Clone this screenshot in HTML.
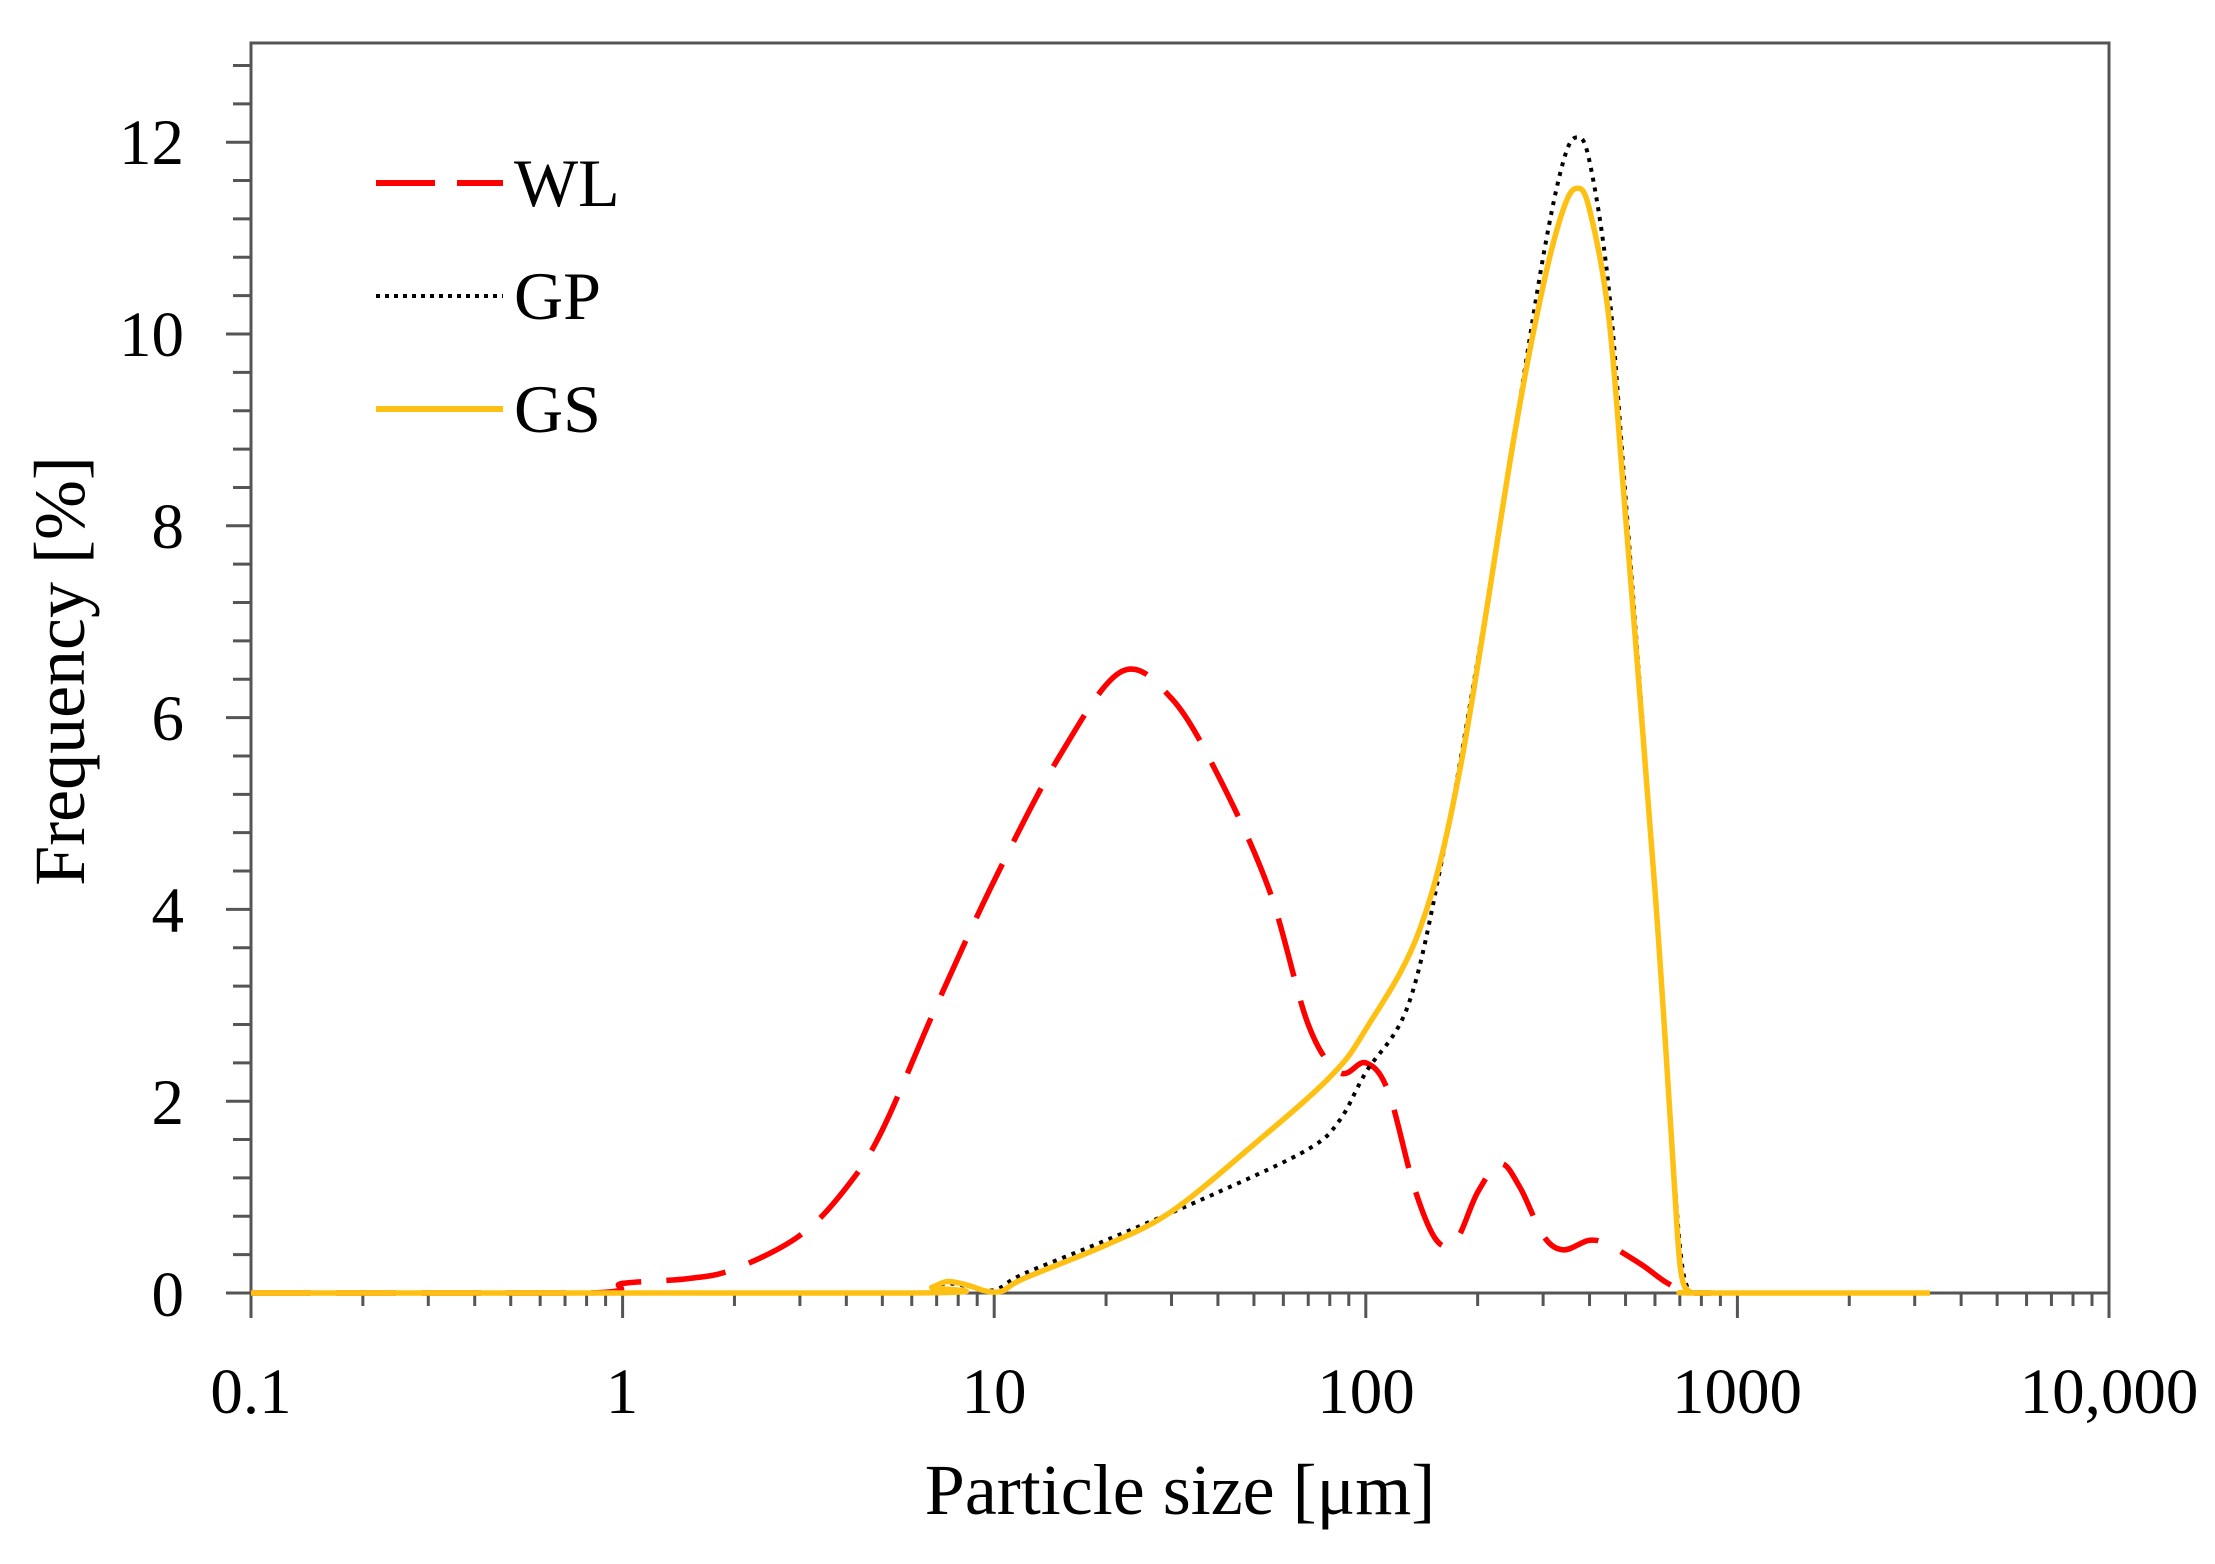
<!DOCTYPE html>
<html><head><meta charset="utf-8"><style>
html,body{margin:0;padding:0;background:#fff;}
svg{display:block;}
text{font-family:"Liberation Serif",serif;fill:#000;}
</style></head><body>
<svg id="s" width="2215" height="1564" viewBox="0 0 2215 1564" xmlns="http://www.w3.org/2000/svg">
<rect width="2215" height="1564" fill="#fff"/>
<g id="ticks" stroke="#555" stroke-width="3"></g>
<rect x="251" y="43" width="1858" height="1250" fill="none" stroke="#555" stroke-width="3"/>
<g id="curves" fill="none" stroke-linejoin="round"></g>
<g font-size="65">
<text x="184" y="164" text-anchor="end">12</text>
<text x="184" y="356" text-anchor="end">10</text>
<text x="184" y="548" text-anchor="end">8</text>
<text x="184" y="740" text-anchor="end">6</text>
<text x="184" y="932" text-anchor="end">4</text>
<text x="184" y="1124" text-anchor="end">2</text>
<text x="184" y="1316" text-anchor="end">0</text>
<text x="251" y="1413" text-anchor="middle">0.1</text>
<text x="622" y="1413" text-anchor="middle">1</text>
<text x="994" y="1413" text-anchor="middle">10</text>
<text x="1366" y="1413" text-anchor="middle">100</text>
<text x="1737" y="1413" text-anchor="middle">1000</text>
<text x="2109" y="1413" text-anchor="middle">10,000</text>
</g>
<g font-size="72">
<text x="1180" y="1514" text-anchor="middle">Particle size [μm]</text>
<text transform="translate(84,671) rotate(-90)" text-anchor="middle">Frequency [%]</text>
</g>
<g font-size="68">
<text x="514" y="206">WL</text>
<text x="514" y="319">GP</text>
<text x="514" y="432">GS</text>
</g>
<line x1="376" y1="183" x2="503" y2="183" stroke="#f00" stroke-width="6" stroke-dasharray="59,22"/>
<line x1="376" y1="296" x2="503" y2="296" stroke="#000" stroke-width="4" stroke-dasharray="4,5"/>
<line x1="376" y1="409" x2="503" y2="409" stroke="#ffc014" stroke-width="6"/>
</svg>
<script>
var X0=251,DEC=371.6,Y0=1293,U=95.9;
function px(v){return X0+Math.log10(v/0.1)*DEC;}
function py(v){return Y0-v*U;}
var t=document.getElementById('ticks'),h='';
for(var i=0;i<=32;i++){var y=Y0-i*0.4*U;var maj=(i%5==0);h+='<line x1="'+(maj?226:233)+'" y1="'+y+'" x2="251" y2="'+y+'"/>';}
for(var d=-1;d<4;d++)for(var k=1;k<10;k++){var x=px(k*Math.pow(10,d));h+='<line x1="'+x+'" y1="1293" x2="'+x+'" y2="'+(k==1?1318:1306)+'"/>';}
h+='<line x1="2109" y1="1293" x2="2109" y2="1318"/>';
t.innerHTML=h;
function path(d){var p=d.map(function(a){return [px(a[0]),py(a[1])];});
var s='M'+p[0][0]+','+p[0][1];
for(var i=0;i<p.length-1;i++){var p0=p[i-1]||p[i],p1=p[i],p2=p[i+1],p3=p[i+2]||p2;
var c1x=p1[0]+(p2[0]-p0[0])/6,c1y=p1[1]+(p2[1]-p0[1])/6,c2x=p2[0]-(p3[0]-p1[0])/6,c2y=p2[1]-(p3[1]-p1[1])/6;
if(p1[1]==Y0&&p2[1]==Y0){c1y=Y0;c2y=Y0;}
c1y=Math.min(c1y,Y0);c2y=Math.min(c2y,Y0);
s+=' C'+c1x+','+c1y+' '+c2x+','+c2y+' '+p2[0]+','+p2[1];}
return s;}
var WL=[[0.1,0],[0.8,0],[1,0.1],[1.5,0.15],[2,0.25],[3,0.6],[4,1.1],[5,1.7],[7,3],[10,4.3],[15,5.6],[22,6.48],[30,6.2],[40,5.4],[55,4.2],[70,2.8],[85,2.3],[100,2.4],[115,2.1],[135,1.1],[155,0.55],[175,0.55],[200,1.05],[230,1.35],[260,1.1],[300,0.6],[340,0.45],[400,0.55],[450,0.5],[550,0.3],[650,0.1],[750,0],[850,0]];
var GP=[[0.1,0],[6,0],[6.8,0.06],[7.5,0.1],[8.5,0.07],[10,0.03],[12,0.2],[20,0.55],[40,1.05],[70,1.5],[85,1.8],[100,2.3],[130,3.0],[160,4.5],[200,6.6],[250,8.9],[300,10.8],[340,11.8],[370,12.05],[400,11.8],[450,10.5],[500,8.3],[600,4.2],[660,1.8],[700,0.5],[730,0.08],[770,0],[850,0]];
var GS=[[0.1,0],[6,0],[6.8,0.06],[7.5,0.12],[8.5,0.08],[9.5,0.02],[10.5,0.02],[12,0.15],[20,0.5],[30,0.85],[50,1.55],[80,2.25],[100,2.75],[140,3.8],[180,5.5],[250,8.9],[300,10.5],[340,11.3],[370,11.52],[400,11.3],[450,10.2],[500,8.1],[600,4.2],[660,1.8],[690,0.6],[710,0.15],[740,0.02],[790,0],[3300,0]];
var c=document.getElementById('curves');
c.innerHTML='<path d="'+path(WL)+'" stroke="#f00" stroke-width="5.5" stroke-dasharray="60,25"/>'+
'<path d="'+path(GP)+'" stroke="#000" stroke-width="4" stroke-dasharray="4,6"/>'+
'<path d="'+path(GS)+'" stroke="#ffc014" stroke-width="5.5"/>';
</script>
</body></html>
